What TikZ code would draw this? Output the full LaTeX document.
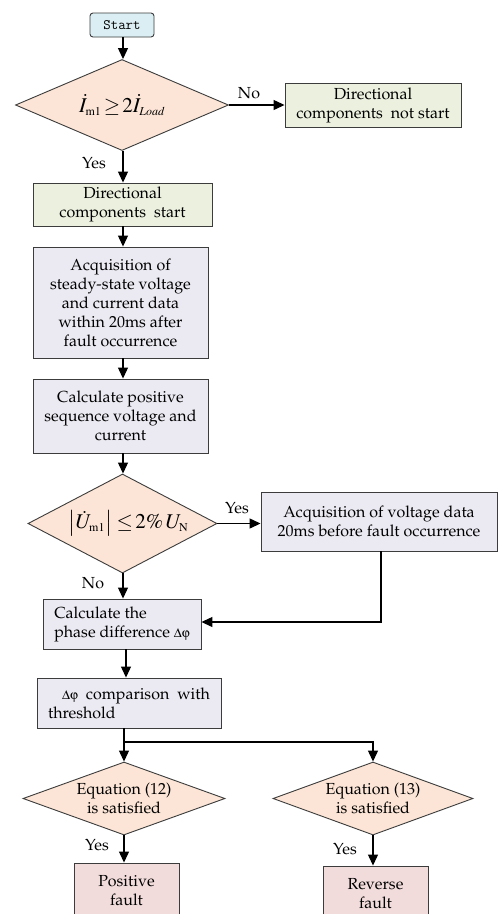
\documentclass[tikz,border=0pt]{standalone}
\usepackage[T1]{fontenc}
\usepackage{mathptmx}
\usepackage[Symbol]{upgreek}
\renewcommand{\rmdefault}{ppl}
\DeclareMathSizes{21}{21}{12}{9}
\usetikzlibrary{shapes.geometric,arrows.meta}
\definecolor{cstart}{RGB}{219,238,244}
\definecolor{cdia}{RGB}{252,229,214}
\definecolor{cgreen}{RGB}{235,241,222}
\definecolor{clav}{RGB}{235,233,241}
\definecolor{cpink}{RGB}{242,220,219}
\definecolor{cborder}{RGB}{60,60,60}
\tikzset{
  txt/.style={font=\fontsize{16}{19}\selectfont},
  box/.style={draw=cborder, line width=0.9pt, rectangle, inner sep=0pt, align=center, txt},
  startbox/.style={draw=cborder, line width=0.9pt, rectangle, rounded corners=3pt, inner sep=0pt,
    fill=cstart, font=\fontencoding{OT1}\fontfamily{cmtt}\fontsize{14.5}{17}\selectfont},
  dia/.style={draw=cborder, line width=0.9pt, diamond, fill=cdia, inner sep=0pt, align=center, txt},
  arr/.style={line width=1.2pt, -{Triangle[length=11pt,width=10pt]}},
  conn/.style={line width=1.2pt},
  lbl/.style={font=\fontsize{16}{18}\selectfont, inner sep=0pt}
}
\newcommand{\dphi}{{\fontsize{13}{14}\selectfont$\Delta\upvarphi$}}
\begin{document}
\begin{tikzpicture}[x=1pt,y=-1pt]
\path[use as bounding box] (0,0) rectangle (500,914);
\clip (0,0) rectangle (500,914);
\fill[white] (0,0) rectangle (500,914);
% nodes
\node[startbox, minimum width=64pt, minimum height=24pt] (start) at (122,25) {Start};
\node[dia, aspect=2.34, minimum width=213pt, minimum height=91pt] (d1) at (122,105)
  {\fontsize{21}{24}\selectfont $\dot{I}_{\mathrm{m1}}\mskip2mu{\geq}\mskip2mu 2\dot{I}_{\mathit{Load}}$};
\node[box, fill=cgreen, minimum width=176pt, minimum height=44pt] (nostart) at (373,105)
  {Directional\\components\ \ not start};
\node[box, fill=cgreen, minimum width=179pt, minimum height=43pt] (dstart) at (122.5,204.5)
  {Directional\\components\ \ start};
\node[box, fill=clav, minimum width=175pt, minimum height=111pt] (acq) at (120.5,302.5)
  {Acquisition of\\steady-state voltage\\and current data\\within 20ms after\\fault occurrence};
\node[box, fill=clav, minimum width=175pt, minimum height=74pt] (calc) at (120.5,416)
  {Calculate positive\\sequence voltage and\\current};
\node[dia, aspect=1.91, minimum width=189pt, minimum height=99pt] (d2) at (122.5,523.5)
  {\fontsize{21}{24}\selectfont \hspace*{12pt}$\left|\dot{U}_{\mathrm{m1}}\right|\mskip2mu{\leq}\mskip2mu 2\%\,U_{\mathrm{N}}$};
\node[box, fill=clav, minimum width=236pt, minimum height=59pt] (volt) at (379,521.5)
  {Acquisition of voltage data\\20ms before fault occurrence};
\node[box, fill=clav, minimum width=158pt, minimum height=50pt, align=left] (phase) at (122,624)
  {Calculate the\\phase difference \dphi};
\node[box, fill=clav, minimum width=184pt, minimum height=50pt, align=left] (comp) at (129,703)
  {\hspace*{14pt}\dphi\hspace{8pt}comparison\hspace{8pt}with\\threshold};
\node[dia, aspect=2.77, minimum width=202pt, minimum height=73pt] (d3) at (124,798.5)
  {Equation (12)\\is satisfied};
\node[dia, aspect=2.74, minimum width=200pt, minimum height=73pt] (d4) at (373,798.5)
  {Equation (13)\\is satisfied};
\node[box, fill=cpink, minimum width=105pt, minimum height=54pt] (pos) at (126.5,890)
  {Positive\\fault};
\node[box, fill=cpink, minimum width=105pt, minimum height=54pt] (rev) at (375.5,893)
  {Reverse\\fault};
% labels
\node[lbl] (l1) at (249,93) {No};
\node[lbl] (l2) at (94,163) {Yes};
\node[lbl] (l3) at (237,508) {Yes};
\node[lbl] (l4) at (93,583) {No};
\node[lbl] (l5) at (97,845) {Yes};
\node[lbl] (l6) at (345,849) {Yes};
% connectors
\coordinate (cx) at (123,0);
\coordinate (px) at (126,0);
\coordinate (vx) at (381,0);
\coordinate (j) at (124,742);
\draw[arr] (start.south -| cx) -- (d1.north -| cx);
\draw[arr] (d1.east) -- (nostart.west);
\draw[arr] (d1.south -| cx) -- (dstart.north -| cx);
\draw[arr] (dstart.south -| cx) -- (acq.north -| cx);
\draw[arr] (acq.south -| cx) -- (calc.north -| cx);
\draw[arr] (calc.south -| cx) -- (d2.north -| cx);
\draw[arr] (d2.east) -- (volt.west |- d2.east);
\draw[arr] (d2.south -| cx) -- (phase.north -| cx);
\draw[arr] (volt.south -| vx) |- ([yshift=2pt]phase.east);
\draw[arr] (phase.south -| px) -- (comp.north -| px);
\draw[conn] (comp.south -| j) -- (j);
\draw[arr] (j) -- (d3.north -| j);
\draw[arr] (j) -| (d4.north);
\draw[arr] (d3.south) -- (pos.north -| d3.south);
\draw[arr] (d4.south) -- (rev.north -| d4.south);
\end{tikzpicture}
\end{document}
